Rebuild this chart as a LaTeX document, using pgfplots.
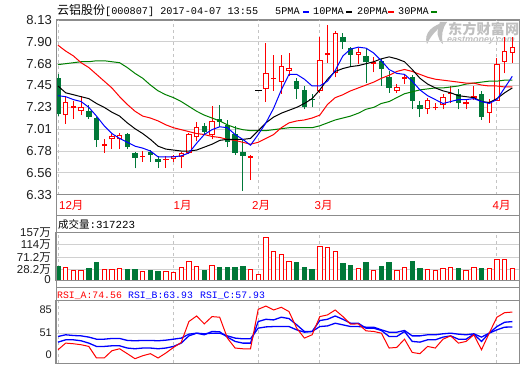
\documentclass[border=0pt]{standalone}
\usepackage{pgfplots}
\pgfplotsset{compat=1.18}
\usepackage{pgfplotstable}
\usepackage{fontspec}
\setmainfont{Liberation Sans}
\newfontfamily\mono{Liberation Mono}
\newfontfamily\cjk{Noto Sans CJK SC}
\definecolor{cred}{RGB}{255,0,0}
\definecolor{cblue}{RGB}{0,0,255}
\definecolor{cgreen}{RGB}{0,120,56}
\definecolor{magreen}{RGB}{0,128,0}
\definecolor{gridc}{RGB}{208,208,208}
\definecolor{framec}{RGB}{140,140,140}
\definecolor{dashc}{RGB}{196,196,196}
\definecolor{txt}{RGB}{30,30,30}
\definecolor{wm}{RGB}{192,192,192}

% candles: up (red, hollow)
\pgfplotstableread{
i O H L C
1 7.15 7.34 7.06 7.29
2 7.22 7.30 7.11 7.24
3 7.19 7.35 7.15 7.23
6 6.83 6.90 6.76 6.85
7 6.90 6.96 6.80 6.93
8 6.90 6.97 6.80 6.95
11 6.72 6.78 6.67 6.73
14 6.69 6.73 6.61 6.70
15 6.70 6.74 6.67 6.73
16 6.72 6.77 6.60 6.76
17 6.76 6.97 6.75 6.96
18 6.92 7.08 6.88 7.03
20 6.94 7.24 6.90 7.09
25 6.71 6.74 6.48 6.73
27 7.42 7.89 7.29 7.58
28 7.52 7.77 7.40 7.53
29 7.49 7.77 7.37 7.66
30 7.60 7.79 7.55 7.64
34 7.40 7.95 7.38 7.72
35 7.77 8.08 7.69 7.79
36 7.58 8.02 7.54 8.00
39 7.77 7.84 7.68 7.80
41 7.68 7.75 7.59 7.70
44 7.40 7.47 7.38 7.44
45 7.52 7.57 7.47 7.54
48 7.21 7.33 7.16 7.31
49 7.22 7.27 7.20 7.23
50 7.25 7.37 7.21 7.34
51 7.37 7.45 7.27 7.38
53 7.26 7.31 7.21 7.28
54 7.33 7.45 7.31 7.35
56 7.17 7.32 7.07 7.29
57 7.30 7.74 7.30 7.68
58 7.70 7.95 7.58 7.81
59 7.79 7.96 7.69 7.85
}\upc
% candles: down (green, filled)
\pgfplotstableread{
i O H L C
0 7.53 7.57 7.14 7.16
4 7.19 7.25 7.11 7.13
5 7.12 7.13 6.82 6.89
9 6.96 6.97 6.80 6.82
10 6.76 6.77 6.60 6.71
12 6.77 6.79 6.67 6.74
13 6.70 6.73 6.61 6.67
19 7.04 7.07 6.95 6.98
21 7.11 7.25 7.03 7.08
22 7.05 7.10 6.82 6.87
23 6.96 7.04 6.74 6.76
24 6.77 6.90 6.37 6.73
31 7.50 7.53 7.32 7.42
32 7.41 7.45 7.21 7.23
33 7.32 7.37 7.23 7.31
37 7.96 8.00 7.83 7.90
38 7.84 7.85 7.65 7.77
40 7.76 7.83 7.48 7.70
42 7.71 7.73 7.45 7.63
43 7.54 7.60 7.38 7.43
46 7.54 7.56 7.21 7.30
47 7.25 7.30 7.13 7.21
52 7.37 7.42 7.21 7.27
55 7.37 7.40 7.10 7.13
}\downc
% one-price day
\pgfplotstableread{
i O H L C
26 7.40 7.40 7.40 7.40
}\flatc
% moving averages
\pgfplotstableread{
i m5 m10 m20 m30
0 7.35 7.45 7.87 7.67
1 7.34 7.38 7.81 7.68
2 7.31 7.36 7.76 7.69
3 7.29 7.34 7.69 7.70
4 7.23 7.32 7.64 7.70
5 7.14 7.27 7.57 7.71
6 7.04 7.23 7.50 7.71
7 6.96 7.18 7.43 7.70
8 6.91 7.14 7.34 7.69
9 6.87 7.07 7.26 7.64
10 6.83 7.01 7.19 7.58
11 6.81 6.96 7.14 7.53
12 6.78 6.90 7.12 7.46
13 6.72 6.83 7.09 7.40
14 6.72 6.80 7.05 7.36
15 6.72 6.79 7.02 7.33
16 6.73 6.78 7.00 7.29
17 6.76 6.78 6.98 7.24
18 6.86 6.79 6.96 7.19
19 6.95 6.82 6.95 7.15
20 7.00 6.85 6.93 7.12
21 7.03 6.89 6.92 7.09
22 7.02 6.90 6.90 7.05
23 6.95 6.90 6.89 7.02
24 6.90 6.90 6.87 7.00
25 6.84 6.91 6.85 6.99
26 6.95 6.99 6.87 6.99
27 7.07 7.07 6.91 6.99
28 7.22 7.13 6.95 7.00
29 7.41 7.17 7.02 7.01
30 7.57 7.20 7.07 7.02
31 7.57 7.23 7.09 7.02
32 7.52 7.27 7.10 7.02
33 7.45 7.32 7.12 7.02
34 7.45 7.41 7.15 7.04
35 7.50 7.52 7.26 7.07
36 7.61 7.60 7.33 7.10
37 7.76 7.63 7.36 7.12
38 7.83 7.65 7.40 7.14
39 7.85 7.66 7.43 7.17
40 7.84 7.68 7.46 7.21
41 7.79 7.70 7.49 7.23
42 7.71 7.73 7.53 7.27
43 7.62 7.75 7.56 7.29
44 7.58 7.73 7.60 7.33
45 7.57 7.70 7.62 7.37
46 7.50 7.62 7.60 7.39
47 7.41 7.53 7.57 7.41
48 7.35 7.47 7.54 7.42
49 7.31 7.43 7.52 7.43
50 7.27 7.40 7.51 7.43
51 7.29 7.38 7.50 7.44
52 7.31 7.35 7.49 7.45
53 7.31 7.34 7.48 7.47
54 7.32 7.33 7.48 7.48
55 7.29 7.29 7.46 7.49
56 7.27 7.28 7.45 7.50
57 7.31 7.32 7.45 7.50
58 7.43 7.38 7.44 7.51
59 7.55 7.43 7.44 7.51
}\ma
% volume (wan)
\pgfplotstableread{
i V
1 35.1
2 25.7
3 25.7
6 29.3
7 29.3
8 32.8
11 22.2
14 22.2
15 19.9
16 35.1
17 56.3
18 39.8
20 43.3
25 28.1
26 11.7
27 140.7
28 91.4
29 82.1
30 56.3
34 110.2
35 105.5
36 91.4
39 31.6
41 24.6
44 24.6
45 35.1
48 28.1
49 24.6
50 31.6
51 35.1
53 24.6
54 35.1
56 31.6
57 64.4
58 64.4
59 31.7
}\vup
\pgfplotstableread{
i V
0 39.8
4 32.8
5 53.9
9 28.1
10 29.3
12 25.7
13 23.4
19 25.7
21 36.3
22 36.3
23 36.3
24 39.8
31 53.9
32 36.3
33 29.3
37 50.4
38 43.3
40 53.9
42 39.8
43 53.9
46 57.4
47 32.8
52 32.8
55 32.8
}\vdown
% RSI
\pgfplotstableread{
i A B C
0 32.5 41.0 47.3
1 39.9 43.6 49.2
2 39.2 43.6 48.4
3 38.1 42.5 48.0
4 36.2 39.9 46.6
5 23.3 36.2 44.3
6 23.3 36.2 44.3
7 31.4 36.9 45.1
8 33.6 36.9 45.1
9 28.1 34.4 42.9
10 22.5 33.6 42.5
11 25.8 34.4 42.9
12 28.1 34.4 42.9
13 23.3 33.6 42.5
14 28.8 34.4 43.2
15 35.1 36.2 44.3
16 40.6 39.9 45.5
17 64.0 48.0 49.9
18 70.2 51.0 51.0
19 61.4 49.2 50.3
20 69.5 52.9 51.0
21 68.8 52.5 51.0
22 45.5 46.6 48.0
23 34.4 41.8 45.5
24 33.6 39.9 44.7
25 33.6 39.9 44.7
26 77.6 64.0 56.6
27 81.3 66.5 58.0
28 76.9 65.8 58.4
29 79.9 68.8 58.4
30 75.1 67.3 58.4
31 56.6 60.3 54.7
32 45.5 52.9 52.1
33 49.2 52.9 52.9
34 69.5 65.1 58.4
35 71.4 66.5 59.1
36 76.9 70.2 62.1
37 69.5 66.5 60.3
38 61.0 62.1 58.4
39 61.4 62.1 58.4
40 53.6 56.6 57.7
41 52.9 56.6 57.7
42 51.0 54.0 54.7
43 34.4 47.3 52.1
44 35.1 47.3 52.1
45 44.3 52.9 54.0
46 29.5 41.8 48.0
47 28.1 41.0 48.0
48 36.2 43.6 49.2
49 34.4 43.6 49.2
50 44.3 46.6 50.3
51 48.0 48.0 51.0
52 39.9 44.3 49.9
53 41.8 44.3 49.2
54 49.2 49.9 50.3
55 32.5 41.8 46.6
56 51.0 51.0 51.0
57 68.8 58.4 54.7
58 73.9 63.2 57.7
59 74.56 63.93 57.93
}\rsi

\pgfplotsset{
  panel/.style={scale only axis, width=463pt, anchor=south west,
    xmin=-0.26, xmax=59.87,
    axis line style={draw=framec, line width=1pt},
    tick style={draw=none},
    xtick=\empty,
    extra x ticks={0,15,26,34,57}, extra x tick labels={},
    extra x tick style={grid=major, major grid style={dashc, line width=1pt, dash pattern=on 3pt off 3pt}},
    ymajorgrids, major grid style={gridc, line width=1pt},
    tick label style={inner sep=0pt, text=txt},
    yticklabel style={anchor=east, xshift=-4pt},
  },
  ebar/.style 2 args={draw=none, forget plot, error bars/.cd, y dir=plus, y explicit,
    error mark=none, error bar style={draw=#1, line width=#2, line cap=butt, solid}},
}

\begin{document}
\begin{tikzpicture}
\useasboundingbox (0pt,0pt) rectangle (520pt,365pt);
\fill[white] (0pt,0pt) rectangle (520pt,365pt);

% watermark
\fill[wm] (447pt,343pt) .. controls (433pt,341pt) and (423pt,332pt) .. (427pt,321pt)
  .. controls (431pt,330pt) and (438pt,337pt) .. (447pt,343pt);
\fill[wm] (440pt,343pt) .. controls (436pt,333pt) and (437pt,326pt) .. (443pt,321pt)
  .. controls (441pt,329pt) and (442pt,336pt) .. (447pt,343pt);
\node[anchor=base west, inner sep=0pt, text=wm] at (448pt,330pt) {\cjk\bfseries\fontsize{14.2}{15}\selectfont 东方财富网};
\node[anchor=base west, inner sep=0pt, text=wm] at (447pt,322pt) {\bfseries\itshape\fontsize{9}{10}\selectfont eastmoney.com};

% ---------------- main price panel
\begin{axis}[panel, at={(56pt,170.3pt)}, height=174.7pt, ymin=6.33, ymax=8.13,
  ytick={6.33,6.555,6.78,7.005,7.23,7.455,7.68,7.905,8.13},
  yticklabels={6.33,6.56,6.78,7.01,7.23,7.45,7.68,7.90,8.13},
  yticklabel style={font=\fontsize{13}{13}\selectfont}]
\addplot[ebar={cgreen}{1pt}] table[x=i, y=L, y error plus expr={\thisrow{H}-\thisrow{L}}] {\downc};
\addplot[ebar={cgreen}{5.4pt}] table[x=i, y=C, y error plus expr={\thisrow{O}-\thisrow{C}}] {\downc};
\addplot[ebar={cred}{1pt}] table[x=i, y=L, y error plus expr={\thisrow{H}-\thisrow{L}}] {\upc};
\addplot[ebar={cred}{5.4pt}] table[x=i, y=O, y error plus expr={max(0.006,\thisrow{C}-\thisrow{O})}] {\upc};
\addplot[ebar={white}{3.4pt}] table[x=i, y expr={\thisrow{O}+0.0103}, y error plus expr={max(0,\thisrow{C}-\thisrow{O}-0.0206)}] {\upc};
\addplot[ebar={black}{7pt}] table[x=i, y=O, y error plus expr={0.0103}] {\flatc};
\addplot[magreen, line width=1pt] table[x=i, y=m30] {\ma};
\addplot[cred, line width=1pt] table[x=i, y=m20] {\ma};
\addplot[black, line width=1pt] table[x=i, y=m10] {\ma};
\addplot[cblue, line width=1pt] table[x=i, y=m5] {\ma};
\end{axis}

% ---------------- volume panel
\begin{axis}[panel, at={(56pt,85pt)}, height=47.3pt, ymin=-9.4, ymax=157,
  ytick={-9.4,28.2,71.2,114,157},
  yticklabels={0,28.2{\cjk 万},71.2{\cjk 万},114{\cjk 万},157{\cjk 万}},
  yticklabel style={font=\fontsize{11.5}{11.5}\selectfont, xshift=-1pt}]
\addplot[ebar={cgreen}{5.4pt}] table[x=i, y expr=-9.4, y error plus expr={\thisrow{V}+9.4}] {\vdown};
\addplot[ebar={cred}{5.4pt}] table[x=i, y expr=-9.4, y error plus expr={\thisrow{V}+9.4}] {\vup};
\addplot[ebar={white}{3.4pt}] table[x=i, y expr=-9.4, y error plus expr={max(0,\thisrow{V}+9.4-3.52)}] {\vup};
\end{axis}

% ---------------- RSI panel
\begin{axis}[panel, at={(56pt,2pt)}, height=62.3pt, ymin=17.7, ymax=87.26,
  ymajorgrids=false,
  ytick={26.95,76.9}, yticklabels={0,85},
  extra y ticks={51}, extra y tick labels={51},
  extra y tick style={grid=major, major grid style={gridc, line width=1pt}},
  yticklabel style={font=\fontsize{11}{11}\selectfont}]
\addplot[cblue, line width=1.3pt] table[x=i, y=C] {\rsi};
\addplot[cblue, line width=1.3pt] table[x=i, y=B] {\rsi};
\addplot[cred, line width=1pt] table[x=i, y=A] {\rsi};
\end{axis}

% frames
\draw[framec, line width=1pt] (56pt,149.5pt) rectangle (519pt,345pt);
\draw[framec, line width=1pt] (56pt,77.5pt) rectangle (519pt,149.5pt);
\draw[framec, line width=1pt] (56pt,2pt) rectangle (519pt,77.5pt);
\draw[framec, line width=1pt] (56pt,170.3pt) -- (519pt,170.3pt);
\draw[framec, line width=1pt] (56pt,132.3pt) -- (519pt,132.3pt);
\draw[framec, line width=1pt] (56pt,85pt) -- (519pt,85pt);
\draw[framec, line width=1pt] (56pt,64.3pt) -- (519pt,64.3pt);

% title and legend
\node[anchor=base west, inner sep=0pt, text=black] at (57pt,350.5pt)
  {\cjk\fontsize{12}{14}\selectfont 云铝股份\mono\fontsize{10.2}{14}\selectfont[000807] 2017-04-07 13:55};
\node[anchor=base west, inner sep=0pt] at (275pt,350.5pt) {\mono\fontsize{10.2}{14}\selectfont 5PMA};
\draw[cblue, line width=2pt] (303pt,353.3pt) -- (308.5pt,353.3pt);
\node[anchor=base west, inner sep=0pt] at (313pt,350.5pt) {\mono\fontsize{10.2}{14}\selectfont 10PMA};
\draw[black, line width=2pt] (346pt,353.3pt) -- (351.5pt,353.3pt);
\node[anchor=base west, inner sep=0pt] at (357pt,350.5pt) {\mono\fontsize{10.2}{14}\selectfont 20PMA};
\draw[cred, line width=2pt] (388pt,353.3pt) -- (393.5pt,353.3pt);
\node[anchor=base west, inner sep=0pt] at (398pt,350.5pt) {\mono\fontsize{10.2}{14}\selectfont 30PMA};
\draw[magreen, line width=2pt] (431pt,353.3pt) -- (436.5pt,353.3pt);

% month labels
\node[anchor=base west, inner sep=0pt, text=cred] at (59pt,156pt) {\fontsize{11.5}{12}\selectfont 12{\cjk 月}};
\node[anchor=base west, inner sep=0pt, text=cred] at (173.5pt,156pt) {\fontsize{11.5}{12}\selectfont 1{\cjk 月}};
\node[anchor=base west, inner sep=0pt, text=cred] at (252pt,156pt) {\fontsize{11.5}{12}\selectfont 2{\cjk 月}};
\node[anchor=base west, inner sep=0pt, text=cred] at (314.5pt,156pt) {\fontsize{11.5}{12}\selectfont 3{\cjk 月}};
\node[anchor=base west, inner sep=0pt, text=cred] at (492.5pt,156pt) {\fontsize{11.5}{12}\selectfont 4{\cjk 月}};

% volume title
\node[anchor=base west, inner sep=0pt] at (58pt,136.5pt)
  {\cjk\fontsize{10.5}{12}\selectfont 成交量\mono\fontsize{10.8}{12}\selectfont:317223};

% RSI titles
\node[anchor=base west, inner sep=0pt, text=cred] at (57pt,67pt) {\mono\fontsize{9.8}{12}\selectfont RSI\_A:74.56};
\node[anchor=base west, inner sep=0pt, text=cblue] at (128pt,67pt) {\mono\fontsize{9.8}{12}\selectfont RSI\_B:63.93};
\node[anchor=base west, inner sep=0pt, text=cblue] at (200pt,67pt) {\mono\fontsize{9.8}{12}\selectfont RSI\_C:57.93};
\end{tikzpicture}
\end{document}
